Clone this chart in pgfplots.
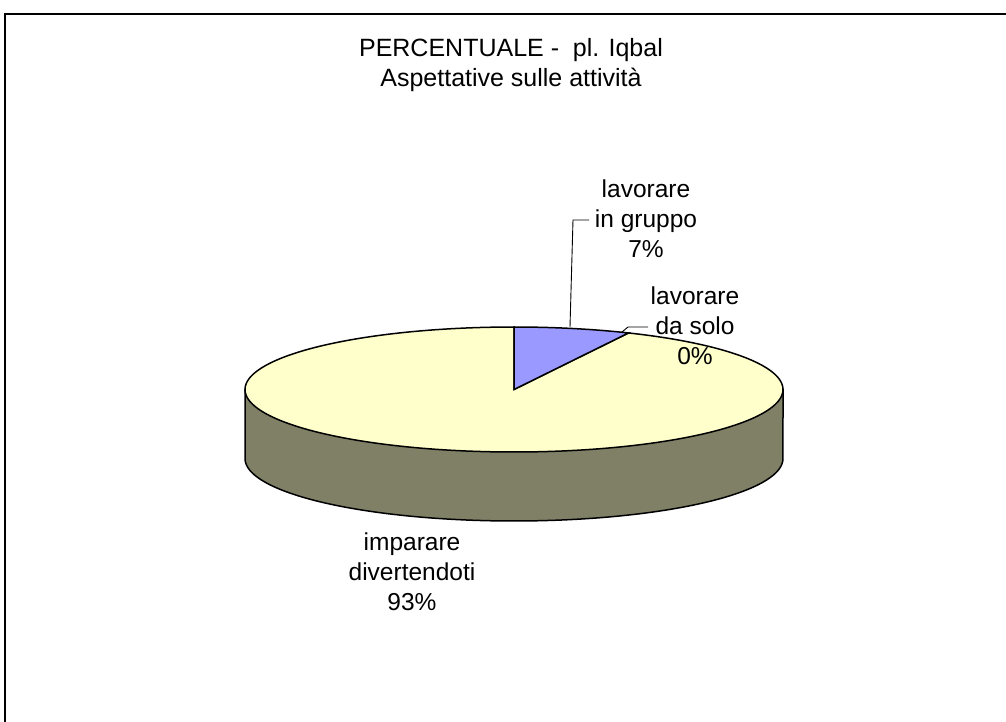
\documentclass[border=0pt]{standalone}
\usepackage{pgfplots}
\usepackage{pgfplotstable}
\pgfplotsset{compat=1.18}
\usepackage{fontspec}
\setmainfont{Liberation Sans}
\definecolor{sliceA}{HTML}{9999FF}
\definecolor{sliceB}{HTML}{993366}
\definecolor{sliceC}{HTML}{FFFFCC}
\definecolor{sideC}{HTML}{808066}
\pgfplotstableread{
name value
gruppo 7
solo 0
imparare 93
}\piedata
\begin{document}
\begin{tikzpicture}
\pgfplotstablegetelem{0}{value}\of\piedata \let\vA\pgfplotsretval
\pgfplotstablegetelem{1}{value}\of\piedata \let\vB\pgfplotsretval
\pgfplotstablegetelem{2}{value}\of\piedata \let\vC\pgfplotsretval
\pgfmathsetmacro\aA{90-3.6*\vA}
\pgfmathsetmacro\aB{\aA-3.6*\vB}
\pgfmathsetmacro\aC{\aB-3.6*\vC}
\def\cx{514}\def\cy{332.5}\def\rx{269}\def\ry{62.5}\def\dd{69}
\begin{axis}[
  at={(0,0)}, anchor=south west,
  x=1bp, y=1bp,
  xmin=0, xmax=1006, ymin=0, ymax=722,
  hide axis, clip=true,
]
% frame
\draw[line width=2bp, black] (axis cs:5,-20) -- (axis cs:5,708) -- (axis cs:1030,708);
% side of the cylinder (front half)
\addplot[draw=black, line width=1.5bp, fill=sideC, domain=180:360, samples=120]
  ({\cx+\rx*cos(x)},{\cy-\dd+\ry*sin(x)}) -- (axis cs:\cx+\rx,\cy) -- (axis cs:\cx-\rx,\cy) -- cycle;
% top face: imparare divertendoti
\addplot[draw=black, line width=1.5bp, fill=sliceC, domain=\aC:\aB, samples=240]
  ({\cx+\rx*cos(x)},{\cy+\ry*sin(x)}) -- (axis cs:\cx,\cy) -- cycle;
% top face: lavorare in gruppo
\addplot[draw=black, line width=1.5bp, fill=sliceA, domain=\aA:90, samples=40]
  ({\cx+\rx*cos(x)},{\cy+\ry*sin(x)}) -- (axis cs:\cx,\cy) -- cycle;
% leader lines
\draw[black, line width=0.9bp] (axis cs:570,395) -- (axis cs:573,502) -- (axis cs:589,502);
\draw[black, line width=0.9bp] (axis cs:622,390) -- (axis cs:628,395) -- (axis cs:648,395);
% title
\node[align=center, font=\fontsize{25bp}{30bp}\selectfont] at (axis cs:511,657)
  {PERCENTUALE -\ \ pl. Iqbal\\Aspettative sulle attività};
% labels
\node[align=center, font=\fontsize{24.5bp}{30bp}\selectfont] at (axis cs:646,503)
  {lavorare\\in gruppo\\\vA\%};
\node[align=center, font=\fontsize{24.5bp}{30bp}\selectfont] at (axis cs:695,396)
  {lavorare\\da solo\\\vB\%};
\node[align=center, font=\fontsize{24.5bp}{30bp}\selectfont] at (axis cs:412,150)
  {imparare\\divertendoti\\\vC\%};
\end{axis}
\pgfresetboundingbox
\useasboundingbox (0,0) rectangle (1006bp,722bp);
\end{tikzpicture}
\end{document}
